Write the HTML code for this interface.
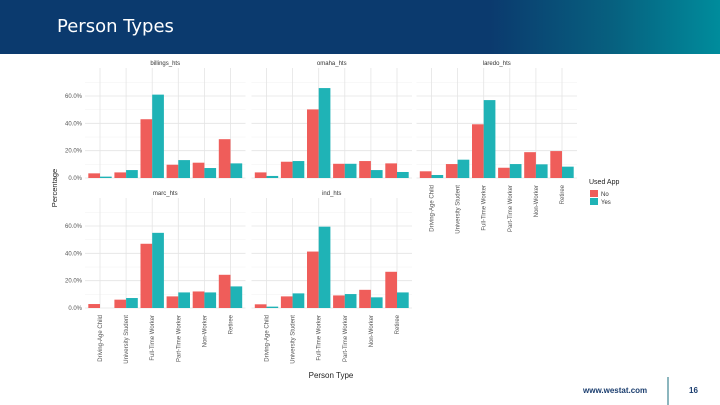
<!DOCTYPE html>
<html><head><meta charset="utf-8"><style>
body{margin:0;width:720px;height:405px;overflow:hidden;background:#fff;font-family:"Liberation Sans",sans-serif;position:relative}
#hdr{position:absolute;left:0;top:0;width:720px;height:54px;background:linear-gradient(90deg,#0b3a6e 0%,#0b3a6e 68%,#07607f 85%,#008c9c 100%)}
#title{position:absolute;left:57px;top:16px;color:#fff;font-size:18px;font-family:"DejaVu Sans","Liberation Sans",sans-serif}
svg{position:absolute;left:0;top:0}
</style></head><body>
<div id="hdr"></div>
<div id="title">Person Types</div>
<svg id="chart" width="720" height="405"></svg>
<script>
const categories=["Driving-Age Child","University Student","Full-Time Worker","Part-Time Worker","Non-Worker","Retiree"];
const panels=["billings_hts","omaha_hts","laredo_hts","marc_hts","ind_hts"];
const noValues=[[3.4,4.1,43,9.7,11.2,28.4],[4.1,11.9,50.2,10.4,12.4,10.7],[4.9,10.2,39.3,7.5,18.9,19.7],[2.9,6.1,47,8.5,12.1,24.3],[2.7,8.5,41.3,9.2,13.3,26.5]];
const yesValues=[[1,5.8,61,13.1,7.3,10.7],[1.5,12.4,65.8,10.4,5.8,4.4],[2.2,13.4,57,10.2,10,8.3],[0,7.3,55,11.4,11.4,15.8],[1,10.7,59.5,10.2,7.8,11.4]];
const yTicks=[0,20,40,60];
const yTickLabels=["0.0%","20.0%","40.0%","60.0%"];
const NS="http://www.w3.org/2000/svg";
const svg=document.getElementById('chart');
function mk(t,a,p){const e=document.createElementNS(NS,t);for(const k in a)e.setAttribute(k,a[k]);(p||svg).appendChild(e);return e;}
const layout=[{x0:100,zero:178},{x0:266.5,zero:178},{x0:431.5,zero:178},{x0:100,zero:308},{x0:266.5,zero:308}];
const step=26.1, ppp=82/60;
panels.forEach((name,pi)=>{
  const L=layout[pi];
  const g=mk('g',{});
  
  
  const xs=i=>L.x0+i*step;
  const ys=v=>L.zero-v*ppp;
  const left=xs(0)-15,right=xs(5)+15;
  // grid
  for(let v=0;v<=70;v+=10){const y=ys(v);if(y<L.zero-112)continue;mk('line',{x1:left,x2:right,y1:y,y2:y,stroke:v%20==0?'#e4e4e4':'#f0f0f0','stroke-width':v%20==0?0.8:0.5},g);}
  categories.forEach((c,i)=>mk('line',{x1:xs(i),x2:xs(i),y1:L.zero-110,y2:L.zero,stroke:'#e4e4e4','stroke-width':0.8},g));
  const t=mk('text',{x:(left+right)/2,y:L.zero-113,'font-size':6,'text-anchor':'middle',fill:'#333'},g);t.textContent=name;
  
  if(pi==0||pi==3){yTicks.forEach((v,k)=>{const tt=mk('text',{x:82,y:ys(v)+2,'font-size':6,'text-anchor':'end',fill:'#555'},g);tt.textContent=yTickLabels[k];
    });}
  const bw=11.7;
  categories.forEach((c,i)=>{
    const r1=mk('rect',{x:xs(i)-bw,y:ys(noValues[pi][i]),width:bw,height:noValues[pi][i]*ppp,fill:'#EF5D5A'},g);
    
    const r2=mk('rect',{x:xs(i),y:ys(yesValues[pi][i]),width:bw,height:yesValues[pi][i]*ppp,fill:'#1FB3B6'},g);
    
  });
  if(pi>=2){categories.forEach((c,i)=>{const y0=L.zero+7;const tt=mk('text',{x:xs(i)+2,y:y0,'font-size':6,'text-anchor':'end',fill:'#555',transform:`rotate(-90 ${xs(i)+2} ${y0})`},g);tt.textContent=c;
    });}
});
let a=mk('text',{x:57,y:188,'font-size':7.5,'text-anchor':'middle',fill:'#222',transform:'rotate(-90 57 188)'});a.textContent='Percentage';

a=mk('text',{x:331,y:378,'font-size':8,'text-anchor':'middle',fill:'#222'});a.textContent='Person Type';

const lg=mk('g',{});
a=mk('text',{x:589,y:184,'font-size':7,fill:'#222'},lg);a.textContent='Used App';
mk('rect',{x:590,y:190,width:8,height:7,fill:'#EF5D5A'},lg);
mk('rect',{x:590,y:198,width:8,height:7,fill:'#1FB3B6'},lg);
a=mk('text',{x:601,y:196,'font-size':6,fill:'#333'},lg);a.textContent='No';
a=mk('text',{x:601,y:204,'font-size':6,fill:'#333'},lg);a.textContent='Yes';
a=mk('text',{x:583,y:393,'font-size':8,'font-weight':'bold',fill:'#1a3d6e'});a.textContent='www.westat.com';

mk('line',{x1:668,x2:668,y1:377,y2:405,stroke:'#1a6d7e','stroke-width':1});
a=mk('text',{x:689,y:393,'font-size':8,'font-weight':'bold',fill:'#1a3d6e'});a.textContent='16';

</script>
</body></html>
